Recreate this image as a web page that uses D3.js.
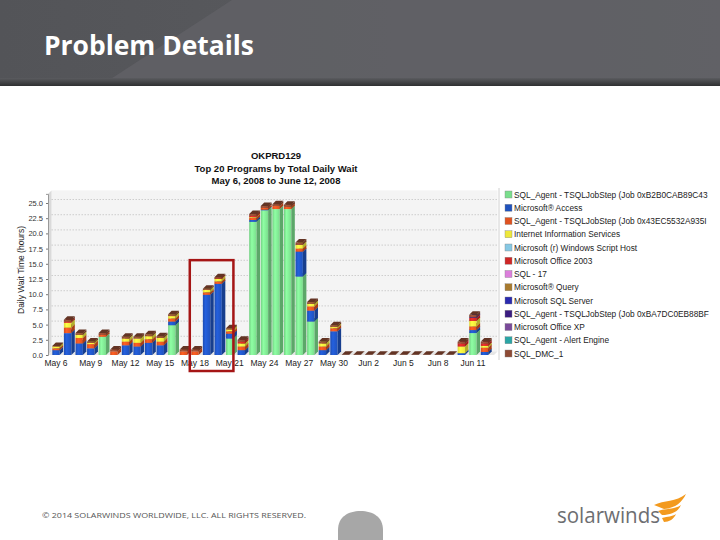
<!DOCTYPE html>
<html>
<head>
<meta charset="utf-8">
<script src="https://cdn.jsdelivr.net/npm/d3@7/dist/d3.min.js"></script>
<style>
  body { margin: 0; background: #fff; }
  svg { display: block; font-family: "Liberation Sans", Arial, sans-serif; }
</style>
</head>
<body>
<svg id="slide" width="720" height="540"></svg>
<script>
// --- data ---
const days = ["May 6","May 7","May 8","May 9","May 10","May 11","May 12","May 13","May 14","May 15",
  "May 16","May 17","May 18","May 19","May 20","May 21","May 22","May 23","May 24","May 25",
  "May 26","May 27","May 28","May 29","May 30","May 31","Jun 1","Jun 2","Jun 3","Jun 4",
  "Jun 5","Jun 6","Jun 7","Jun 8","Jun 9","Jun 10","Jun 11","Jun 12"];
const xTickLabels = ["May 6","May 9","May 12","May 15","May 18","May 21","May 24","May 27","May 30","Jun 2","Jun 5","Jun 8","Jun 11"];
const yTicks = [0, 2.5, 5, 7.5, 10, 12.5, 15, 17.5, 20, 22.5, 25];

const seriesNames = [
  "SQL_Agent - TSQLJobStep (Job 0xB2B0CAB89C43",
  "Microsoft® Access",
  "SQL_Agent - TSQLJobStep (Job 0x43EC5532A935I",
  "Internet Information Services",
  "Microsoft (r) Windows Script Host",
  "Microsoft Office 2003",
  "SQL - 17",
  "Microsoft® Query",
  "Microsoft SQL Server",
  "SQL_Agent - TSQLJobStep (Job 0xBA7DC0EB88BF",
  "Microsoft Office XP",
  "SQL_Agent - Alert Engine",
  "SQL_DMC_1"
];
const seriesColors = ["#7ade8c","#1f52bd","#e0521f","#eee83a","#86c8e4","#cf2626","#dc7fdc",
  "#a87a2e","#2a2ab0","#3a1c80","#7a4a9a","#2aa6a6","#8e4a34"];

// hours per day, one array per program (index = days)
const jobB2B0   = [0,0,0,0,3.0,0,0,0,0,0,4.9,0,0,0,0,2.7,0,21.9,23.8,24.0,24.0,12.9,5.5,0,0,0,0,0,0,0,0,0,0,0,0,0,3.6,0];
const msAccess  = [0.8,3.6,1.9,1.1,0,0,1.6,1.4,2.0,1.6,0.6,0,0,9.9,11.7,0.8,0.8,0.3,0.1,0,0,4.1,1.8,0.8,3.9,0,0,0,0,0,0,0,0,0,0,0.3,0.5,0.5];
const job43EC   = [0.3,0.9,0.9,0.7,0.3,0.6,0.6,0.6,0.6,0.6,0.5,0.6,0.6,0.4,0.4,0.4,0.6,0.4,0.3,0.5,0.4,0.5,0.7,0.6,0.5,0,0,0,0,0,0,0,0,0,0,0,0.6,0.7];
const iis       = [0.3,0.8,0.5,0.2,0,0,0.5,0.7,0.5,0.6,0.4,0,0,0.4,0.4,0.3,0.5,0.1,0,0,0,0.6,0.4,0.5,0.2,0,0,0,0,0,0,0,0,0,0,1.1,0.9,0.3];
const wsh       = [0,0,0,0,0,0,0,0,0,0,0,0,0,0,0,0,0,0,0,0,0,0,0,0,0,0,0,0,0,0,0,0,0,0,0,0,0,0];
const office03  = [0,0.2,0,0,0,0,0,0,0,0,0,0,0,0,0.1,0,0.3,0.2,0,0,0,0,0,0,0,0,0,0,0,0,0,0,0,0,0,0.5,0.5,0.4];
const sql17     = [0,0,0,0,0,0,0,0,0,0,0,0,0,0,0,0,0,0,0,0,0,0,0,0,0,0,0,0,0,0,0,0,0,0,0,0,0,0];
const msQuery   = [0,0,0,0,0,0,0,0,0,0,0,0,0,0,0,0,0,0,0,0,0,0,0,0,0,0,0,0,0,0,0,0,0,0,0,0,0,0];
const msSql     = [0,0,0,0,0,0,0,0,0,0,0,0,0,0,0,0,0,0,0,0,0,0,0,0,0,0,0,0,0,0,0,0,0,0,0,0,0.1,0];
const jobBA7D   = [0,0,0,0,0,0,0,0,0,0,0,0,0,0,0,0,0,0,0,0,0,0,0,0,0,0,0,0,0,0,0,0,0,0,0,0,0,0];
const officeXP  = [0,0,0,0,0,0,0,0,0,0,0,0,0,0,0,0,0,0,0,0,0,0,0,0,0,0,0,0,0,0,0,0,0,0,0,0,0,0];
const alertEng  = [0,0,0,0,0,0,0,0,0,0,0,0,0,0,0,0,0,0,0,0,0,0,0,0,0,0,0,0,0,0,0,0,0,0,0,0,0,0];
const sqlDmc1   = [0.1,0.3,0.3,0.2,0.3,0.3,0.3,0.3,0.3,0.3,0.3,0.3,0.3,0.2,0.2,0.2,0.3,0.3,0.3,0.3,0.3,0.4,0.3,0.3,0.3,0.05,0.05,0.05,0.05,0.05,0.05,0.05,0.05,0.05,0.05,0.3,0.4,0.3];
const seriesValues = [jobB2B0, msAccess, job43EC, iis, wsh, office03, sql17, msQuery, msSql, jobBA7D, officeXP, alertEng, sqlDmc1];

const chartTitle = ["OKPRD129", "Top 20 Programs by Total Daily Wait", "May 6, 2008 to June 12, 2008"];
const yAxisTitle = "Daily Wait Time (hours)";
const highlight = { from: "May 18", to: "May 21", top: 15.6 };

const svg = d3.select("#slide");

// --- slide header ---
const defs = svg.append("defs");
const hg = defs.append("linearGradient").attr("id", "hdr").attr("x1", 0).attr("x2", 1).attr("y1", 0).attr("y2", 0);
hg.append("stop").attr("offset", 0).attr("stop-color", "#535458");
hg.append("stop").attr("offset", 1).attr("stop-color", "#5e5f63");
svg.append("rect").attr("x", 0).attr("y", 0).attr("width", 720).attr("height", 86).attr("fill", "url(#hdr)");
svg.append("path").attr("d", "M232,0 L720,0 L720,86 L100,86 Z").attr("fill", "#616266").attr("opacity", 0.8);
const sg = defs.append("linearGradient").attr("id", "hdrEdge").attr("x1", 0).attr("x2", 0).attr("y1", 0).attr("y2", 1);
sg.append("stop").attr("offset", 0).attr("stop-color", "#5a5b5f");
sg.append("stop").attr("offset", 1).attr("stop-color", "#2e2f31");
svg.append("rect").attr("x", 0).attr("y", 78).attr("width", 720).attr("height", 8).attr("fill", "url(#hdrEdge)");
svg.append("text").attr("x", 44).attr("y", 55)
  .attr("fill", "#fff").attr("font-family", "'Open Sans', sans-serif").attr("font-weight", 700)
  .attr("font-size", 26).attr("textLength", 210).attr("lengthAdjust", "spacingAndGlyphs")
  .text("Problem Details");

// --- chart ---
const dx = 3.5, dy = 3.5;
const x = d3.scaleBand().domain(days).range([50, 494]).paddingInner(0.06).paddingOuter(0.2);
const y = d3.scaleLinear().domain([0, 26.5]).range([355, 355 - 26.5 * 6.08]);
const fw = x.bandwidth() - dx;
const x0 = 48, x1 = 494, yTop = y(26.5), yBot = y(0);

// walls
svg.append("rect").attr("x", x0 + dx).attr("y", yTop - dy).attr("width", x1 - x0).attr("height", yBot - yTop)
  .attr("fill", "#f4f4f4");
svg.append("path").attr("fill", "#dadada")
  .attr("d", `M${x0},${yTop} L${x0 + dx},${yTop - dy} L${x0 + dx},${yBot - dy} L${x0},${yBot} Z`);
svg.append("path").attr("fill", "#e6e6e6")
  .attr("d", `M${x0},${yBot} L${x0 + dx},${yBot - dy} L${x1 + dx},${yBot - dy} L${x1},${yBot} Z`);

// grid on the back wall
svg.append("g").selectAll("line").data(yTicks.slice(1)).join("line")
  .attr("x1", x0 + dx).attr("x2", x1 + dx)
  .attr("y1", d => y(d) - dy).attr("y2", d => y(d) - dy)
  .attr("stroke", "#bdbdbd").attr("stroke-width", 0.7).attr("stroke-dasharray", "1.5,1.5");

// y axis
const yAxis = svg.append("g").attr("transform", `translate(${x0},0)`)
  .call(d3.axisLeft(y).tickValues(yTicks).tickFormat(d3.format(".1f")).tickSize(2).tickPadding(3));
yAxis.select(".domain").attr("stroke", "#999");
yAxis.selectAll(".tick line").attr("stroke", "#777");
yAxis.selectAll("text").attr("font-size", 7.5).attr("fill", "#333").attr("font-family", "'Liberation Sans', Arial, sans-serif");
svg.append("text").attr("transform", "translate(24,270) rotate(-90)")
  .attr("text-anchor", "middle").attr("font-size", 8.5).attr("fill", "#222").text(yAxisTitle);

// x axis labels
const xAxis = svg.append("g").attr("transform", `translate(0,${yBot})`)
  .call(d3.axisBottom(x).tickValues(xTickLabels).tickSize(0).tickPadding(5));
xAxis.select(".domain").remove();
xAxis.selectAll(".tick").attr("transform", d => `translate(${x(d) + fw / 2},0)`);
xAxis.selectAll("text").attr("font-size", 8.5).attr("fill", "#222").attr("font-family", "'Liberation Sans', Arial, sans-serif");

// gradients for bar fronts
seriesColors.forEach((c, i) => {
  const g = defs.append("linearGradient").attr("id", `bar${i}`).attr("x1", 0).attr("x2", 1).attr("y1", 0).attr("y2", 0);
  g.append("stop").attr("offset", 0).attr("stop-color", d3.color(c).darker(0.2));
  g.append("stop").attr("offset", 0.35).attr("stop-color", d3.color(c).brighter(0.45));
  g.append("stop").attr("offset", 1).attr("stop-color", c);
});

// stacked 3D bars
const table = days.map((d, j) => {
  const row = { day: d };
  seriesNames.forEach((s, i) => { row[s] = seriesValues[i][j]; });
  return row;
});
const stack = d3.stack().keys(seriesNames)(table);
const segs = [];
days.forEach((d, j) => {
  stack.forEach((layer, i) => {
    const v = layer[j];
    if (v[1] - v[0] > 0) segs.push({ day: d, i, y0: v[0], y1: v[1] });
  });
});

const bars = svg.append("g").selectAll("g").data(segs).join("g");
bars.append("rect")
  .attr("x", d => x(d.day)).attr("width", fw)
  .attr("y", d => y(d.y1)).attr("height", d => y(d.y0) - y(d.y1))
  .attr("fill", d => `url(#bar${d.i})`);
bars.append("path")
  .attr("fill", d => d3.color(seriesColors[d.i]).darker(0.8))
  .attr("d", d => {
    const xa = x(d.day) + fw, t = y(d.y1), b = y(d.y0);
    return `M${xa},${t} L${xa + dx},${t - dy} L${xa + dx},${b - dy} L${xa},${b} Z`;
  });
bars.append("path")
  .attr("fill", d => d3.color(seriesColors[d.i]).darker(1))
  .attr("d", d => {
    const xa = x(d.day), t = y(d.y1);
    return `M${xa},${t} L${xa + dx},${t - dy} L${xa + fw + dx},${t - dy} L${xa + fw},${t} Z`;
  });

// chart title
svg.append("g").selectAll("text").data(chartTitle).join("text")
  .attr("x", 276).attr("y", (d, i) => 159 + i * 12.5)
  .attr("text-anchor", "middle").attr("font-size", 9.5).attr("font-weight", 700).attr("fill", "#111")
  .text(d => d);

// legend
svg.append("line").attr("x1", 499).attr("x2", 499).attr("y1", 188).attr("y2", 360).attr("stroke", "#d0d0d0");
const legend = svg.append("g").selectAll("g").data(seriesNames).join("g")
  .attr("transform", (d, i) => `translate(505,${194.5 + i * 13.25})`);
legend.append("rect").attr("x", 0).attr("y", -3.5).attr("width", 7).attr("height", 7)
  .attr("fill", (d, i) => seriesColors[i]).attr("stroke", "#888").attr("stroke-width", 0.4);
legend.append("text").attr("x", 9).attr("y", 3).attr("font-size", 8.3).attr("fill", "#222").text(d => d);

// highlight box
svg.append("rect")
  .attr("x", x(highlight.from) - 1.5).attr("y", y(highlight.top))
  .attr("width", x(highlight.to) + fw - x(highlight.from) + 1.5)
  .attr("height", yBot + 16 - y(highlight.top))
  .attr("fill", "none").attr("stroke", "#a51515").attr("stroke-width", 2.5);

// --- footer ---
svg.append("text").attr("x", 42).attr("y", 518).attr("font-size", 7.5).attr("fill", "#555")
  .attr("font-family", "'Open Sans', sans-serif")
  .attr("textLength", 264).attr("lengthAdjust", "spacingAndGlyphs")
  .text("© 2014 SOLARWINDS WORLDWIDE, LLC.  ALL RIGHTS RESERVED.");
svg.append("path").attr("fill", "#a7a7a7")
  .attr("d", "M338,540 L338,530 C338,517 348,511 360.5,511 C373,511 383,517 383,530 L383,540 Z");
svg.append("text").attr("x", 557).attr("y", 523).attr("font-size", 21).attr("fill", "#6d6e71")
  .attr("font-family", "'Open Sans', sans-serif").attr("textLength", 103).attr("lengthAdjust", "spacingAndGlyphs")
  .text("solarwinds");
const flame = svg.append("g").attr("fill", "#f39a1e");
flame.append("path").attr("d", "M654,505 C664,500 676,502 686,494 C682,502 676,508 664,509 Z");
flame.append("path").attr("d", "M658,511 C666,508 674,510 681,505 C678,512 671,515 662,515 Z");
flame.append("path").attr("d", "M662,518 C668,516 672,517 676,514 C674,519 669,522 664,522 Z");
</script>
</body>
</html>
